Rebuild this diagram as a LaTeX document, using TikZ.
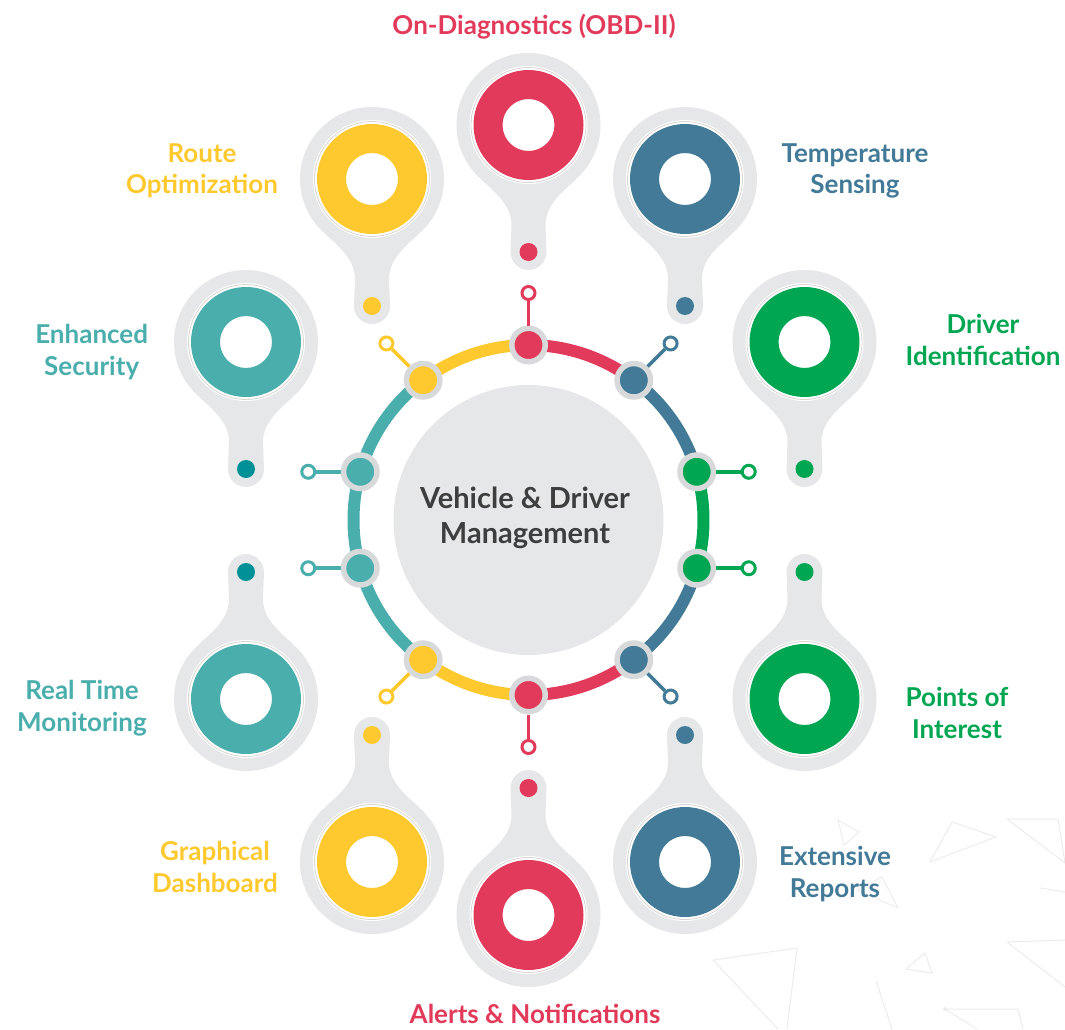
\documentclass[tikz,border=0pt]{standalone}
\usepackage{fontspec}
\setmainfont{Lato}
\usetikzlibrary{calc}
\definecolor{obdred}{RGB}{226,58,90}
\definecolor{tempblue}{RGB}{66,122,151}
\definecolor{drvgreen}{RGB}{0,166,81}
\definecolor{routeyellow}{RGB}{253,201,46}
\definecolor{secteal}{RGB}{74,174,173}
\definecolor{dotteal}{RGB}{0,145,150}
\definecolor{pingray}{RGB}{230,231,232}
\definecolor{knobgray}{RGB}{216,217,218}
\definecolor{pinshade}{RGB}{216,213,209}
\definecolor{titlegray}{RGB}{62,62,62}
\definecolor{shardgray}{RGB}{236,236,236}

\begin{document}
\begin{tikzpicture}[x=1pt, y=1pt,
    ringarc/.style={line width=12pt},
    knob/.style={circle, draw=knobgray, line width=5.5pt, minimum size=33.5pt, inner sep=0pt},
    stub/.style={line width=3.5pt},
    stubend/.style={circle, line width=3pt, fill=white, minimum size=13pt, inner sep=0pt},
    lbl/.style={font=\fontsize{26}{31.5}\selectfont\bfseries, align=center, anchor=base},
    shard/.style={draw=shardgray, line width=1pt, line join=round}]
    \useasboundingbox (-528.5,-509) rectangle (536.5,520);

    % faint shards, bottom right
    \begin{scope}[shift={(-528.5,520)}, yscale=-1]
        \draw[shard] (838,820) -- (859,832) -- (844,845) -- cycle;
        \draw[shard] (930,862) -- (952,822) -- (996,837) -- cycle;
        \draw[shard] (1007,819) -- (1058,819) -- (1065,863) -- cycle;
        \draw[shard] (1040,888) -- (1065,892);
        \draw[shard] (857,890) -- (882,877) -- (898,908) -- cycle;
        \draw[shard] (778,1029) -- (713,960) -- (797,948) -- (787,1029);
        \draw[shard] (906,969) -- (925,953) -- (932,973) -- cycle;
        \draw[shard] (1065,940) -- (1007,942) -- (1065,987);
        \draw[shard] (876,981) -- (892,1029);
        \draw[shard] (977,1029) -- (945,1009) -- (1018,1009) -- (1023,1029);
        \fill[shardgray] (945,1009) circle (2);
    \end{scope}

    % pins
    \foreach \px/\py/\rot/\col/\dotcol in {0/395/0/obdred/obdred, 156.5/341/0/tempblue/tempblue,
        -156.5/341/0/routeyellow/routeyellow, 276/178/0/drvgreen/drvgreen, -282.5/178/0/secteal/dotteal,
        0/-395/180/obdred/obdred, 156.5/-342/180/tempblue/tempblue, -156.5/-342/180/routeyellow/routeyellow,
        276/-179/180/drvgreen/drvgreen, -282.5/-179/180/secteal/dotteal} {
        \begin{scope}[shift={(\px,\py)}, rotate=\rot]
            \fill[pingray] (0,0) circle (72);
            \fill[pingray] (-47,-55) .. controls (-27,-72) and (-17,-84) .. (-17,-100) -- (-18,-127)
                arc (180:360:18) -- (17,-100) .. controls (17,-84) and (27,-72) .. (47,-55) -- cycle;
            \fill[white] (0,0) circle (59);
            \draw[pinshade, line width=0.8pt] (0,0) circle (57.5);
            \fill[\col, even odd rule] (0,0) circle (55) (0,0) circle (26);
            \fill[\dotcol] (0,-127) circle (9);
        \end{scope}
    }

    \fill[pingray] (0,0) circle (135);
    \node[font=\fontsize{29}{35}\selectfont\bfseries, text=titlegray, align=center, anchor=base] (hub)
        at (-3.5,-23) {Vehicle \& Driver\\Management};

    % ring
    \foreach \a/\b/\c in {90/53/obdred, 53/16/tempblue, 16/-16/drvgreen, -16/-53/tempblue,
        -53/-90/obdred, -90/-127/routeyellow, -127/-164/secteal, -164/-196/secteal,
        164/127/secteal, 127/90/routeyellow}
        \draw[ringarc, \c] (\a:175) arc (\a:\b:175);

    \foreach \a/\c/\d [count=\i] in {90/obdred/90, 53/tempblue/45, 16/drvgreen/0, -16/drvgreen/0,
        -53/tempblue/-45, -90/obdred/-90, -127/routeyellow/-135, -164/secteal/180,
        164/secteal/180, 127/routeyellow/135} {
        \node[knob, fill=\c] (k\i) at (\a:175) {};
        \node[stubend, draw=\c] (e\i) at ($(k\i)+(\d:52)$) {};
        \draw[stub, \c] (k\i) -- (e\i);
    }

    % labels
    \node[lbl, text=obdred] (obd) at (5.5,485) {On-Diagnostics (OBD-II)};
    \node[lbl, text=routeyellow] (route) at (-326.5,326) {Route\\Optimization};
    \node[lbl, text=tempblue] (temp) at (326.5,326) {Temperature\\Sensing};
    \node[lbl, text=drvgreen] (driver) at (454.5,155) {Driver\\Identification};
    \node[lbl, text=secteal] (security) at (-436.8,145) {Enhanced\\Security};
    \node[lbl, text=secteal] (monitor) at (-446.5,-211) {Real Time\\Monitoring};
    \node[lbl, text=routeyellow] (dash) at (-313.5,-372) {Graphical\\Dashboard};
    \node[lbl, text=tempblue] (reports) at (306.5,-377) {Extensive\\Reports};
    \node[lbl, text=drvgreen] (poi) at (428.5,-218) {Points of\\Interest};
    \node[lbl, text=obdred] (alerts) at (6.5,-503) {Alerts \& Notifications};
\end{tikzpicture}
\end{document}
